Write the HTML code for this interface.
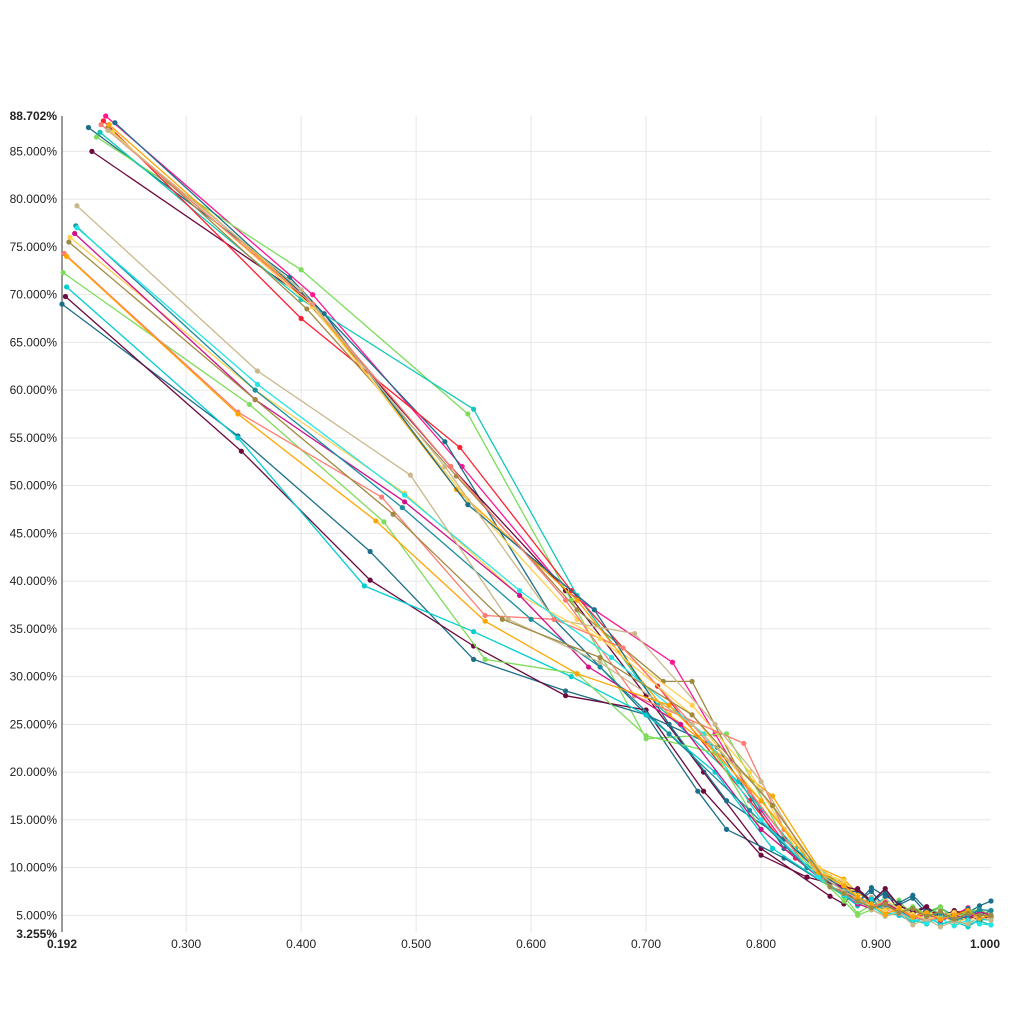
<!DOCTYPE html>
<html><head><meta charset="utf-8">
<style>
html,body{margin:0;padding:0;background:#fff;}
svg{display:block;font-family:"Liberation Sans",sans-serif;}
</style></head>
<body>
<svg id="chart" width="1024" height="1024" viewBox="0 0 1024 1024"></svg>
<script>
const xDomain = [0.192, 1.0];
const yDomain = [3.255, 88.702];
const xTicks = [0.3, 0.4, 0.5, 0.6, 0.7, 0.8, 0.9];
const yTicks = [5, 10, 15, 20, 25, 30, 35, 40, 45, 50, 55, 60, 65, 70, 75, 80, 85];
const seriesColors = ["#ff1493","#1b6f8a","#6b0a3e","#7ddc5a","#10c8b8","#ff2030","#a08a40","#ffa500","#ffd050","#1b6f8a","#ff7a70","#c8b88a",
  "#1b6f8a","#6b0a3e","#00ced1","#7ddc5a","#ff7a70","#ffd050","#d0108a","#1b8fa0","#22e5e5","#c8b88a","#ffa500","#a08a40"];
const seriesValues = [
 [[0.230,88.7],[0.41,70],[0.54,52],[0.63,39],[0.723,31.5],[0.76,24],[0.80,16],[0.83,11],[0.86,8]],
 [[0.215,87.5],[0.39,71.8],[0.525,54.6],[0.62,36],[0.70,26],[0.762,22.6],[0.82,12],[0.855,9]],
 [[0.218,85],[0.40,70],[0.53,52],[0.63,39],[0.70,28],[0.75,20],[0.80,12],[0.86,7]],
 [[0.222,86.5],[0.40,72.6],[0.545,57.5],[0.635,38],[0.70,23.5],[0.77,24],[0.82,13],[0.86,8]],
 [[0.225,87],[0.40,69.5],[0.55,58],[0.64,38.5],[0.71,27],[0.78,19],[0.83,12],[0.86,9]],
 [[0.228,88.2],[0.40,67.5],[0.538,54],[0.635,39],[0.71,29],[0.79,17],[0.83,11],[0.86,8]],
 [[0.232,87.5],[0.405,68.5],[0.535,51],[0.64,37],[0.715,29.5],[0.74,29.5],[0.79,18],[0.84,10]],
 [[0.233,87.8],[0.41,69],[0.535,49.6],[0.64,38],[0.72,26],[0.81,17.5],[0.85,10]],
 [[0.236,87],[0.41,68.7],[0.545,48.5],[0.64,36],[0.74,27],[0.79,20],[0.84,10]],
 [[0.238,88],[0.42,68],[0.545,48],[0.655,37],[0.72,25],[0.77,17],[0.82,13],[0.86,8.5]],
 [[0.226,87.8],[0.41,69],[0.53,52],[0.63,38],[0.69,28],[0.785,23],[0.82,14],[0.86,8]],
 [[0.232,87.2],[0.40,70.5],[0.525,52],[0.62,36],[0.69,34.5],[0.76,25],[0.80,19],[0.85,9]],
 [[0.192,69],[0.345,55.2],[0.46,43.1],[0.55,31.8],[0.63,28.5],[0.70,26],[0.745,18],[0.77,14],[0.82,11],[0.86,8]],
 [[0.195,69.8],[0.348,53.6],[0.46,40.1],[0.55,33.2],[0.63,28],[0.70,26.5],[0.75,18],[0.80,11.3],[0.84,9]],
 [[0.196,70.8],[0.345,55],[0.455,39.5],[0.55,34.7],[0.635,30],[0.70,26],[0.76,20],[0.81,12],[0.86,8]],
 [[0.193,72.3],[0.355,58.5],[0.472,46.2],[0.56,31.8],[0.64,30.3],[0.70,23.8],[0.76,22],[0.80,14],[0.85,9]],
 [[0.194,74.3],[0.345,57.7],[0.47,48.8],[0.56,36.4],[0.62,36],[0.68,33],[0.74,25],[0.79,18],[0.84,10]],
 [[0.199,76],[0.36,60],[0.49,49.2],[0.59,38.5],[0.66,34],[0.74,26],[0.80,17],[0.85,10]],
 [[0.203,76.4],[0.36,59],[0.49,48.3],[0.59,38.5],[0.65,31],[0.73,25],[0.80,14],[0.85,9]],
 [[0.204,77.2],[0.36,60],[0.488,47.7],[0.60,36],[0.66,31],[0.72,24],[0.79,16],[0.84,10]],
 [[0.205,77],[0.362,60.6],[0.49,49],[0.59,39],[0.67,32],[0.75,24],[0.80,15],[0.85,9]],
 [[0.205,79.3],[0.362,62],[0.495,51.1],[0.58,36],[0.66,31.5],[0.74,25],[0.80,18],[0.855,9]],
 [[0.196,74],[0.345,57.5],[0.465,46.3],[0.56,35.8],[0.64,30.3],[0.72,27],[0.80,17],[0.85,9.5]],
 [[0.198,75.5],[0.36,59],[0.48,47],[0.575,36],[0.66,32],[0.74,26],[0.81,16.5],[0.86,8]]
];
const tailX = [0.872,0.884,0.896,0.908,0.92,0.932,0.944,0.956,0.968,0.98,0.99,1.0];
const tailValues = [
 [7.2,6.1,6.8,5.4,5.9,4.6,5.2,4.4,5.0,5.8,4.7,4.5],
 [7.9,6.4,7.5,5.8,6.2,5.0,4.4,5.3,4.1,4.9,5.6,5.0],
 [6.2,7.8,6.5,7.4,5.6,5.1,5.9,4.6,5.2,4.5,5.4,4.8],
 [7.0,5.2,6.1,5.5,6.6,4.8,5.4,5.9,4.3,5.6,4.9,5.5],
 [8.1,6.6,5.7,6.9,5.0,4.5,4.1,5.0,4.6,4.0,4.4,4.0],
 [7.5,6.9,6.0,6.4,5.3,4.7,5.6,4.9,5.3,5.5,4.6,5.0],
 [8.4,6.8,6.2,5.6,6.0,5.5,4.9,5.4,4.5,4.8,5.1,4.8],
 [8.8,7.3,6.5,5.9,5.2,5.8,5.0,4.4,5.5,4.9,4.6,5.0],
 [8.6,7.0,5.8,6.6,5.7,5.0,4.5,5.1,4.2,4.7,5.3,5.0],
 [7.7,6.3,7.9,7.0,6.3,7.1,5.6,5.2,4.8,5.7,5.0,5.5],
 [7.4,6.7,6.1,5.2,5.6,5.0,4.3,5.1,4.6,5.3,4.8,4.5],
 [7.9,6.2,6.9,6.0,5.4,4.4,5.1,4.0,4.6,5.2,4.3,5.0],
 [7.3,7.6,6.3,7.5,6.1,6.8,5.2,5.8,4.9,5.3,6.0,6.5],
 [8.0,7.7,6.4,7.8,6.0,5.4,5.9,4.8,5.5,5.0,4.5,5.0],
 [7.1,6.0,6.7,5.3,5.0,4.3,4.8,4.1,4.4,3.8,4.6,4.5],
 [6.5,5.0,5.6,6.2,5.4,5.9,5.1,5.8,4.7,5.4,5.6,5.0],
 [7.6,6.5,5.9,6.4,5.2,4.9,4.4,4.9,4.6,5.1,4.7,5.0],
 [8.2,6.6,6.0,5.5,5.8,5.1,4.6,4.9,5.3,4.4,5.0,5.0],
 [7.8,6.2,5.7,6.3,5.5,4.8,5.3,4.5,5.0,4.7,5.4,5.0],
 [7.6,6.9,5.6,6.1,5.3,5.7,4.9,5.2,4.4,5.0,5.6,5.5],
 [7.2,6.4,5.9,5.0,5.4,4.6,4.2,4.7,3.9,4.5,4.1,4.0],
 [7.5,6.8,5.6,4.9,5.3,4.0,4.6,3.8,4.4,4.1,4.8,4.5],
 [8.1,6.9,6.2,5.1,5.7,4.8,5.3,4.6,5.0,5.5,4.7,5.0],
 [7.3,6.5,5.8,6.2,5.3,5.7,4.9,5.4,4.6,5.2,5.0,5.0]
];

const L = 62, R = 991, T = 116, B = 932;
const NS = "http://www.w3.org/2000/svg";
const svg = document.getElementById('chart');
function xScale(v){ return L + (v - xDomain[0]) / (xDomain[1] - xDomain[0]) * (R - L); }
function yScale(v){ return B - (v - yDomain[0]) / (yDomain[1] - yDomain[0]) * (B - T); }
function mk(tag, attrs){ const e = document.createElementNS(NS, tag); for (const k in attrs) e.setAttribute(k, attrs[k]); return e; }

const grid = mk('g', {});


svg.appendChild(grid);
xTicks.forEach(t => {
  const ln = mk('line', {x1: xScale(t), x2: xScale(t), y1: T, y2: B, stroke: '#e6e6e6', 'stroke-width': 1});
  
  
  grid.appendChild(ln);
});
yTicks.forEach(t => {
  const ln = mk('line', {x1: L, x2: R, y1: yScale(t), y2: yScale(t), stroke: '#e6e6e6', 'stroke-width': 1});
  
  
  grid.appendChild(ln);
});

const axes = mk('g', {});


svg.appendChild(axes);
const yAxis = mk('line', {x1: L, x2: L, y1: T, y2: B, stroke: '#333', 'stroke-width': 1});


axes.appendChild(yAxis);

function addText(x, y, s, anchor, bold, name){
  const t = mk('text', {x: x, y: y, 'font-size': 12, 'text-anchor': anchor, fill: '#222', 'font-weight': bold ? 'bold' : 'normal'});
  t.textContent = s;
  
  
  axes.appendChild(t);
}
xTicks.forEach(t => addText(xScale(t), 948, t.toFixed(3), 'middle', false, 'x-tick-label'));
addText(xScale(xDomain[0]), 948, xDomain[0].toFixed(3), 'middle', true, 'x-min-label');
addText(xScale(xDomain[1]) - 6, 948, xDomain[1].toFixed(3), 'middle', true, 'x-max-label');
yTicks.forEach(t => addText(57, yScale(t) + 4, t.toFixed(3) + '%', 'end', false, 'y-tick-label'));
addText(57, yScale(yDomain[1]) + 4, yDomain[1].toFixed(3) + '%', 'end', true, 'y-max-label');
addText(57, yScale(yDomain[0]) + 6, yDomain[0].toFixed(3) + '%', 'end', true, 'y-min-label');

const plot = mk('g', {});


svg.appendChild(plot);
seriesValues.forEach((head, i) => {
  const c = seriesColors[i % seriesColors.length];
  const pts = head.concat(tailX.map((x, k) => [x, tailValues[i][k]]));
  const g = mk('g', {});
  
  
  plot.appendChild(g);
  const d = pts.map((p, j) => (j ? 'L' : 'M') + xScale(p[0]).toFixed(1) + ',' + yScale(p[1]).toFixed(1)).join(' ');
  const path = mk('path', {d: d, fill: 'none', stroke: c, 'stroke-width': 1.3});
  
  
  g.appendChild(path);
  pts.forEach(p => {
    const dot = mk('circle', {cx: xScale(p[0]), cy: yScale(p[1]), r: 2.6, fill: c});
    
    
    g.appendChild(dot);
  });
});
</script>
</body></html>
